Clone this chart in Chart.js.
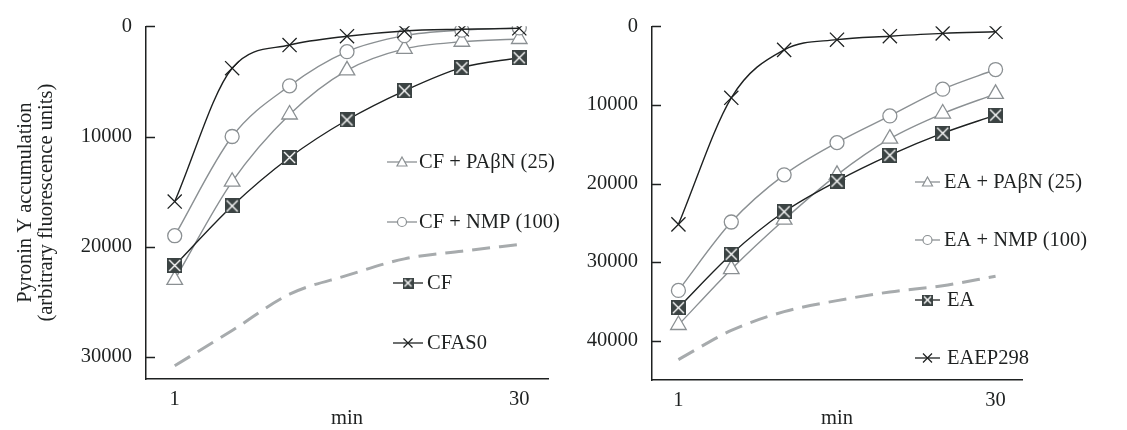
<!DOCTYPE html>
<html>
<head>
<meta charset="utf-8">
<script src="https://cdn.jsdelivr.net/npm/chart.js@4"></script>
<style>
  body { margin: 0; background: #fff; }
  #wrap { position: relative; width: 1127px; height: 430px; }
  #wrap canvas { position: absolute; top: 0; }
</style>
</head>
<body>
<div id="wrap">
  <canvas id="chart1" width="575" height="430" style="left:0"></canvas>
  <canvas id="chart2" width="552" height="430" style="left:575px"></canvas>
</div>
<script>
// time points (min), only first and last are labelled
const minutes = [1, 5, 10, 15, 20, 25, 30]

// left panel, CF
const cfPab = [23000, 14100, 8000, 4000, 2050, 1400, 1150]
const cfNmp = [19000, 10000, 5400, 2300, 850, 350, 150]
const cf = [21700, 16300, 11900, 8500, 5850, 3750, 2850]
const cfas0 = [15900, 3800, 1700, 900, 420, 270, 180]
const cfDashed = [30800, 27600, 24300, 22600, 21100, 20400, 19800]
const leftTicks = [0, 10000, 20000, 30000]

// right panel, EA
const eaPab = [38000, 30900, 24600, 18900, 14300, 11100, 8600]
const eaNmp = [33600, 24900, 18900, 14800, 11400, 8000, 5500]
const ea = [35800, 29000, 23600, 19700, 16400, 13600, 11300]
const eaep298 = [25200, 9100, 3000, 1700, 1260, 900, 700]
const eaDashed = [42400, 38700, 36300, 34900, 33800, 33000, 31800]
const rightTicks = [0, 10000, 20000, 30000, 40000]

const leftLabels = ['CF + PAβN (25)', 'CF + NMP (100)', 'CF', 'CFAS0']
const rightLabels = ['EA + PAβN (25)', 'EA + NMP (100)', 'EA', 'EAEP298']

const serif = '"Liberation Serif", "Times New Roman", serif'
const fontSize = 20.5
const ink = '#1e2121'
const gray = '#8b9093'
const dashGray = '#a7abad'
const boxFill = '#3b4343'

const makeBox = size => {
  const c = document.createElement('canvas')
  c.width = c.height = size
  const g = c.getContext('2d')
  g.fillStyle = boxFill
  g.fillRect(0, 0, size, size)
  g.strokeStyle = '#fff'
  g.lineWidth = 1.4
  g.beginPath()
  g.moveTo(2, 2); g.lineTo(size - 2, size - 2)
  g.moveTo(size - 2, 2); g.lineTo(2, size - 2)
  g.stroke()
  return c
}
const boxBig = makeBox(15)
const boxSmall = makeBox(11)

const seriesStyles = [
  { color: gray, marker: 'triangle', radius: 9, fill: '#fff' },
  { color: gray, marker: 'circle', radius: 7, fill: '#fff' },
  { color: ink, marker: boxBig, radius: 8, fill: boxFill },
  { color: ink, marker: 'crossRot', radius: 10, fill: ink }
]

const buildDatasets = (labels, series, dashed) => {
  const sets = series.map((data, i) => ({
    label: labels[i],
    data,
    borderColor: seriesStyles[i].color,
    backgroundColor: seriesStyles[i].fill,
    borderWidth: 1.4,
    pointStyle: seriesStyles[i].marker,
    pointRadius: seriesStyles[i].radius,
    pointBorderWidth: 1.3,
    pointBorderColor: seriesStyles[i].color,
    pointBackgroundColor: seriesStyles[i].fill,
    cubicInterpolationMode: 'monotone',
    order: 4 - i
  }))
  sets.push({
    label: '',
    data: dashed,
    borderColor: dashGray,
    borderWidth: 3,
    borderDash: [18, 9],
    pointRadius: 0,
    cubicInterpolationMode: 'monotone',
    order: 10
  })
  return sets
}

// short ticks drawn inside the plot, like the original
const inwardTicks = {
  id: 'inwardTicks',
  afterDraw(chart) {
    const { ctx, chartArea, scales: { y } } = chart
    ctx.save()
    ctx.strokeStyle = ink
    ctx.lineWidth = 1.5
    y.ticks.forEach(t => {
      const py = Math.round(y.getPixelForValue(t.value)) + 0.5
      ctx.beginPath()
      ctx.moveTo(chartArea.left, py)
      ctx.lineTo(chartArea.left + 9, py)
      ctx.stroke()
    })
    ctx.restore()
  }
}

const drawMarker = (ctx, i, x, y) => {
  const s = seriesStyles[i]
  ctx.strokeStyle = s.color
  ctx.lineWidth = 1.2
  ctx.beginPath()
  if (i === 0) {
    ctx.moveTo(x, y - 5); ctx.lineTo(x + 5, y + 4); ctx.lineTo(x - 5, y + 4); ctx.closePath()
    ctx.fillStyle = '#fff'; ctx.fill(); ctx.stroke()
  } else if (i === 1) {
    ctx.arc(x, y, 4.5, 0, Math.PI * 2)
    ctx.fillStyle = '#fff'; ctx.fill(); ctx.stroke()
  } else if (i === 2) {
    ctx.drawImage(boxSmall, x - 5.5, y - 5.5)
  } else {
    ctx.moveTo(x - 4.5, y - 4.5); ctx.lineTo(x + 4.5, y + 4.5)
    ctx.moveTo(x + 4.5, y - 4.5); ctx.lineTo(x - 4.5, y + 4.5)
    ctx.stroke()
  }
}

const boxLegend = {
  id: 'boxLegend',
  afterDraw(chart, args, opts) {
    const { ctx } = chart
    ctx.save()
    ctx.font = fontSize + 'px ' + serif
    ctx.textBaseline = 'middle'
    chart.data.datasets.forEach((ds, i) => {
      if (!ds.label) return
      const row = opts.rows[i]
      const y = row.y
      ctx.strokeStyle = seriesStyles[i].color
      ctx.lineWidth = 1.3
      ctx.beginPath()
      ctx.moveTo(row.x, y)
      ctx.lineTo(row.x + row.seg, y)
      ctx.stroke()
      drawMarker(ctx, i, row.x + row.seg / 2, y)
      ctx.fillStyle = ink
      ctx.fillText(ds.label, row.x + row.seg + row.gap, y + 1)
    })
    ctx.restore()
  }
}

const renderPanel = (id, datasets, cfg) => {
  new Chart(id, {
    type: 'line',
    data: { labels: minutes, datasets },
    options: {
      responsive: false,
      animation: false,
      layout: { padding: { left: 0, right: cfg.padRight, top: cfg.padTop, bottom: 0 } },
      plugins: {
        legend: { display: false },
        tooltip: { enabled: false },
        boxLegend: { rows: cfg.legendRows }
      },
      scales: {
        x: {
          type: 'category',
          offset: true,
          grid: { display: false, drawTicks: false },
          border: { color: ink, width: 1.5 },
          ticks: {
            autoSkip: false,
            maxRotation: 0,
            padding: 8,
            color: ink,
            font: { family: serif, size: fontSize },
            callback: (v, i) => (i === 0 || i === minutes.length - 1) ? minutes[i] : ''
          },
          title: { display: true, text: 'min', color: ink, font: { family: serif, size: fontSize, lineHeight: 1 }, padding: { top: 0, bottom: 1 } },
          afterFit: s => { s.height = cfg.xHeight }
        },
        y: {
          reverse: true,
          min: 0,
          max: cfg.yMax,
          grid: { display: false, drawTicks: false },
          border: { color: ink, width: 1.5 },
          ticks: {
            padding: 14,
            color: ink,
            font: { family: serif, size: fontSize },
            callback: v => String(v)
          },
          afterBuildTicks: s => { s.ticks = cfg.yTicks.map(value => ({ value })) },
          title: cfg.yTitle
            ? { display: true, text: cfg.yTitle, color: ink, font: { family: serif, size: fontSize, lineHeight: 1.02 }, padding: { top: 15, bottom: 0 } }
            : { display: false },
          afterFit: s => { s.width = cfg.yWidth }
        }
      }
    },
    plugins: [inwardTicks, boxLegend]
  })
}

renderPanel('chart1', buildDatasets(leftLabels, [cfPab, cfNmp, cf, cfas0], cfDashed), {
  padRight: 27,
  padTop: 22,
  xHeight: 51,
  yMax: 32000,
  yTicks: leftTicks,
  yWidth: 146,
  yTitle: ['Pyronin Y accumulation', '(arbitrary fluorescence units)'],
  legendRows: [
    { x: 387, seg: 30, gap: 2, y: 162 },
    { x: 387, seg: 30, gap: 2, y: 222 },
    { x: 393, seg: 30, gap: 4, y: 283 },
    { x: 393, seg: 30, gap: 4, y: 343 }
  ]
})

renderPanel('chart2', buildDatasets(rightLabels, [eaPab, eaNmp, ea, eaep298], eaDashed), {
  padRight: 105,
  padTop: 23,
  xHeight: 50,
  yMax: 45000,
  yTicks: rightTicks,
  yWidth: 77,
  yTitle: null,
  legendRows: [
    { x: 340, seg: 25, gap: 4, y: 182 },
    { x: 340, seg: 25, gap: 4, y: 240 },
    { x: 340, seg: 25, gap: 7, y: 300 },
    { x: 340, seg: 25, gap: 7, y: 358 }
  ]
})
</script>
</body>
</html>
